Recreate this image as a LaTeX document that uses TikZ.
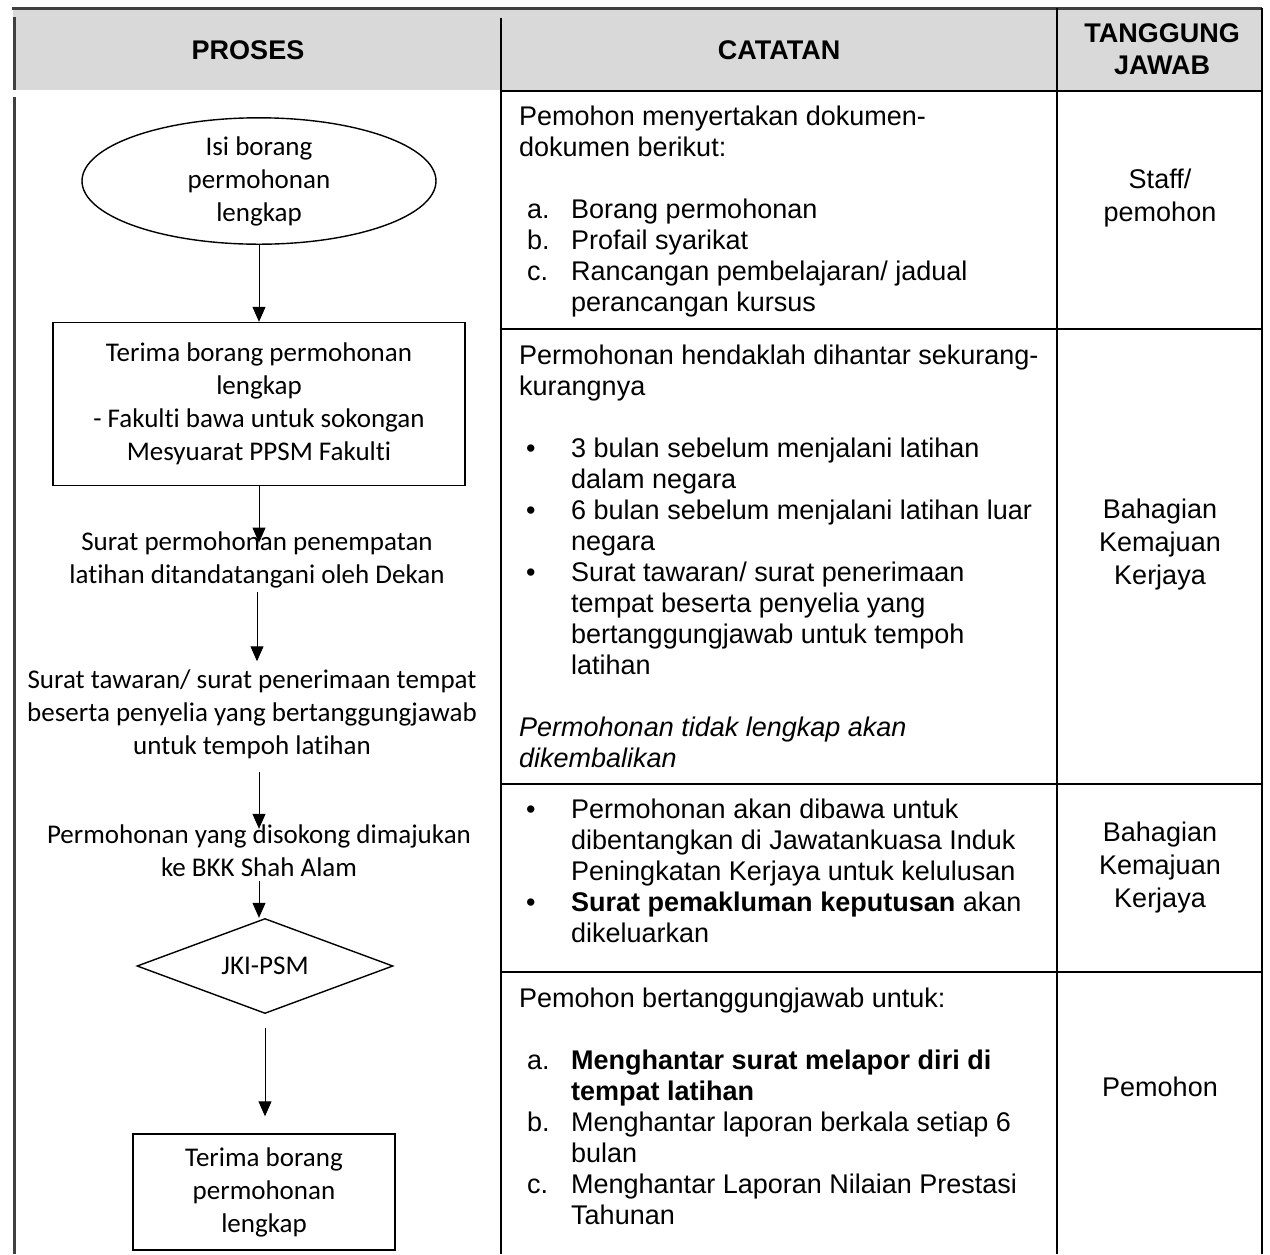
\documentclass[tikz,border=0pt]{standalone}
\usepackage{fontspec}
\setmainfont{Liberation Sans}
\newfontfamily\calibri[Ligatures=NoCommon]{Carlito}
\usepackage{tikz}
\usetikzlibrary{shapes.geometric,arrows.meta}

\definecolor{headgray}{HTML}{D9D9D9}
\definecolor{rulegray}{HTML}{404040}

\begin{document}
\begin{tikzpicture}[x=1pt,y=-1pt]

\useasboundingbox (0,0) rectangle (1270,1254);

\tikzstyle{proses} = [font=\calibri\fontsize{27}{33}\selectfont, align=center, inner sep=0]
\tikzstyle{flowbox} = [proses, draw, line width=1.4pt, rectangle]
\tikzstyle{catatan} = [font=\fontsize{27}{31}\selectfont, anchor=base west, inner sep=0]
\tikzstyle{tanggung} = [font=\fontsize{27}{33}\selectfont, align=center, inner sep=0]
\tikzstyle{header} = [font=\bfseries\fontsize{27}{32}\selectfont, align=center, inner sep=0]
\tikzstyle{flow} = [-{Triangle[width=13pt,length=15pt]}, line width=1pt]

% table frame
\fill[headgray] (13,8) rectangle (1262,90);
\draw[rulegray, line width=3pt] (12,8) -- (1262,8);
\draw[rulegray, line width=3pt] (14,17) -- (14,90);
\draw[rulegray, line width=3pt] (14,97) -- (14,1254);
\draw[line width=1.5pt] (501,18) -- (501,1254);
\draw[line width=1.5pt] (1057,8) -- (1057,1254);
\draw[line width=1.5pt] (1262,8) -- (1262,1254);
\foreach \y in {91,329,784,972}
  \draw[line width=1.5pt] (501,\y) -- (1262,\y);

% header
\node (hproses) [header] at (248,50) {PROSES};
\node (hcatatan) [header] at (779,50) {CATATAN};
\node (htanggung) [header] at (1162,49) {TANGGUNG\\JAWAB};

% proses
\node (isi) [proses, draw, line width=1.4pt, ellipse, minimum width=354pt, minimum height=124pt] at (259,181) {Isi borang\\permohonan\\lengkap};
\node (terima) [flowbox, minimum width=412pt, minimum height=163pt] at (259,404) {Terima borang permohonan\\lengkap\\- Fakulti bawa untuk sokongan\\Mesyuarat PPSM Fakulti};
\node (dekan) [proses] at (257,560) {Surat permohonan penempatan\\latihan ditandatangani oleh Dekan};
\node (tawaran) [proses] at (252,714) {Surat tawaran/ surat penerimaan tempat\\beserta penyelia yang bertanggungjawab\\untuk tempoh latihan};
\node (bkk) [proses] at (259,851) {Permohonan yang disokong dimajukan\\ke BKK Shah Alam};
\node (jki) [proses, draw, line width=1.4pt, diamond, aspect=2.7, minimum width=256pt, minimum height=95pt] at (265,966) {JKI-PSM};
\node (lengkap) [flowbox, minimum width=262pt, minimum height=116pt] at (264,1192) {Terima borang\\permohonan\\lengkap};

\draw[flow] (isi.south) -- (isi.south |- terima.north);
\draw[flow, shorten >=-11pt] (terima.south) -- (terima.south |- dekan.north);
\draw[flow, shorten <=4pt, shorten >=8pt] (dekan.south) -- (dekan.south |- tawaran.north);
\draw[flow, shorten <=13pt, shorten >=-4pt] (bkk.north |- tawaran.south) -- (bkk.north);
\draw[flow, shorten <=4pt] (bkk.south) -- (bkk.south |- jki.north);
\draw[flow, shorten <=14pt, shorten >=17pt] (jki.south) -- (jki.south |- lengkap.north);

% catatan
\node (cat1) [catatan] at (519,125) {\begin{tabular}[t]{@{}p{52pt}@{}l@{}}
\multicolumn{2}{@{}l@{}}{Pemohon menyertakan dokumen-}\\
\multicolumn{2}{@{}l@{}}{dokumen berikut:}\\
 & \\
\hspace*{8pt}a. & Borang permohonan\\
\hspace*{8pt}b. & Profail syarikat\\
\hspace*{8pt}c. & Rancangan pembelajaran/ jadual\\
 & perancangan kursus
\end{tabular}};

\node (cat2) [catatan] at (519,364) {\begin{tabular}[t]{@{}p{52pt}@{}l@{}}
\multicolumn{2}{@{}l@{}}{Permohonan hendaklah dihantar sekurang-}\\
\multicolumn{2}{@{}l@{}}{kurangnya}\\
 & \\
\hspace*{7pt}\textbullet & 3 bulan sebelum menjalani latihan\\
 & dalam negara\\
\hspace*{7pt}\textbullet & 6 bulan sebelum menjalani latihan luar\\
 & negara\\
\hspace*{7pt}\textbullet & Surat tawaran/ surat penerimaan\\
 & tempat beserta penyelia yang\\
 & bertanggungjawab untuk tempoh\\
 & latihan\\
 & \\
\multicolumn{2}{@{}l@{}}{\itshape Permohonan tidak lengkap akan}\\
\multicolumn{2}{@{}l@{}}{\itshape dikembalikan}
\end{tabular}};

\node (cat3) [catatan] at (519,818) {\begin{tabular}[t]{@{}p{52pt}@{}l@{}}
\hspace*{7pt}\textbullet & Permohonan akan dibawa untuk\\
 & dibentangkan di Jawatankuasa Induk\\
 & Peningkatan Kerjaya untuk kelulusan\\
\hspace*{7pt}\textbullet & \textbf{Surat pemakluman keputusan} akan\\
 & dikeluarkan
\end{tabular}};

\node (cat4) [catatan] at (519,1007) {\begin{tabular}[t]{@{}p{52pt}@{}l@{}}
\multicolumn{2}{@{}l@{}}{Pemohon bertanggungjawab untuk:}\\
 & \\
\hspace*{8pt}a. & \textbf{Menghantar surat melapor diri di}\\
 & \textbf{tempat latihan}\\
\hspace*{8pt}b. & Menghantar laporan berkala setiap 6\\
 & bulan\\
\hspace*{8pt}c. & Menghantar Laporan Nilaian Prestasi\\
 & Tahunan
\end{tabular}};

% tanggung jawab
\node (tj1) [tanggung] at (1160,198) {Staff/\\pemohon};
\node (tj2) [tanggung] at (1160,545) {Bahagian\\Kemajuan\\Kerjaya};
\node (tj3) [tanggung] at (1160,868) {Bahagian\\Kemajuan\\Kerjaya};
\node (tj4) [tanggung] at (1160,1087) {Pemohon};

\end{tikzpicture}
\end{document}
